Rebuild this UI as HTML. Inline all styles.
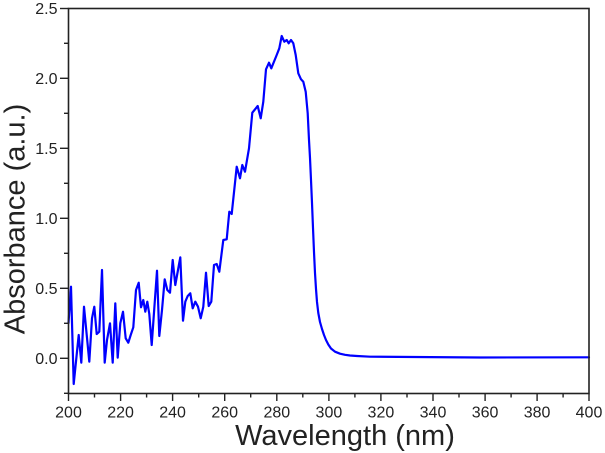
<!DOCTYPE html>
<html>
<head>
<meta charset="utf-8">
<style>
  html,body{margin:0;padding:0;background:#fff;}
  svg{display:block;}
  text{font-family:"Liberation Sans", Arial, sans-serif;fill:#222;}
</style>
</head>
<body>
<svg width="605" height="453" viewBox="0 0 605 453" xmlns="http://www.w3.org/2000/svg">
  <rect x="0" y="0" width="605" height="453" fill="#fff"/>
  <!-- curve -->
  <polyline fill="none" stroke="#0000ff" stroke-width="2.2" stroke-linejoin="round" stroke-linecap="round"
    points="68.5,323 71,286.7 73.7,384 78.7,335 81.3,362.7 84,306.7 89.3,361.7 92,318.3 94.3,306.7 96.7,334 99.3,331.7 102,270 104.7,362.7 107,340 110,323.3 112.7,362.7 115.3,303.3 117.7,357.7 120.3,323.3 123,311.7 125.7,338.3 128.3,342.7 130.7,335 133.3,327.3 136,290 138.7,282.7 141,307.3 143.3,300 145.3,311.7 147.3,301.7 149.3,314 151.7,345 154.3,308.3 157,270.7 159.3,336 162,310 164.7,279.3 167.3,290 170,292.7 172.7,260 175.3,285 178,270 180.3,257.3 183,320.7 185.3,301.7 187.7,296 190.3,293.3 192.7,308.3 195.3,301.7 198,306.7 200.7,318.3 203.3,306.7 206,272.7 208.7,306 211.3,301.7 214,265 216.7,264 219.3,271.7 223.3,240 226.7,239.3 229.3,211.7 231.7,214 236.7,166.7 240,178.3 242.3,165 245,171.7 249,148.3 252.3,112.7 257.7,106 260.7,118.3 263.3,101.7 266,69.3 269,62.7 271.3,68.3 276.7,55 279.3,48.3 281.7,36 284.3,41.7 286.7,40 288.7,43.3 291,40 293.3,43.3 295.7,55 298.3,73.3 301,79.3 303.3,81.7 305.7,91.7 307.7,113.3 309,140 310,158 311,180 312,203 313,228 314,252 315,273 316,289 317,302 318.3,313 320,322 322,329 324,335 326,340 328.3,344.5 331,348.5 335,351.7 340,353.7 345,354.8 350,355.5 357,356 370,356.7 480,357.5 589,357.3"/>
  <!-- frame -->
  <rect x="68.5" y="8.5" width="520.5" height="385" fill="none" stroke="#222" stroke-width="1.6"/>
  <!-- y ticks -->
  <g stroke="#222" stroke-width="1.4">
    <line x1="60" y1="358.3" x2="68.5" y2="358.3"/>
    <line x1="60" y1="288.3" x2="68.5" y2="288.3"/>
    <line x1="60" y1="218.3" x2="68.5" y2="218.3"/>
    <line x1="60" y1="148.3" x2="68.5" y2="148.3"/>
    <line x1="60" y1="78.3" x2="68.5" y2="78.3"/>
    <line x1="60" y1="8.5" x2="68.5" y2="8.5"/>
    <line x1="64" y1="323.3" x2="68.5" y2="323.3"/>
    <line x1="64" y1="253.3" x2="68.5" y2="253.3"/>
    <line x1="64" y1="183.3" x2="68.5" y2="183.3"/>
    <line x1="64" y1="113.3" x2="68.5" y2="113.3"/>
    <line x1="64" y1="43.3" x2="68.5" y2="43.3"/>
    <line x1="64" y1="393.3" x2="68.5" y2="393.3"/>
  </g>
  <!-- x ticks -->
  <g stroke="#222" stroke-width="1.4">
    <line x1="68.5" y1="393.5" x2="68.5" y2="401"/>
    <line x1="120.6" y1="393.5" x2="120.6" y2="401"/>
    <line x1="172.6" y1="393.5" x2="172.6" y2="401"/>
    <line x1="224.7" y1="393.5" x2="224.7" y2="401"/>
    <line x1="276.8" y1="393.5" x2="276.8" y2="401"/>
    <line x1="328.9" y1="393.5" x2="328.9" y2="401"/>
    <line x1="380.9" y1="393.5" x2="380.9" y2="401"/>
    <line x1="433" y1="393.5" x2="433" y2="401"/>
    <line x1="485.1" y1="393.5" x2="485.1" y2="401"/>
    <line x1="537.1" y1="393.5" x2="537.1" y2="401"/>
    <line x1="589" y1="393.5" x2="589" y2="401"/>
    <line x1="94.5" y1="393.5" x2="94.5" y2="397.5"/>
    <line x1="146.6" y1="393.5" x2="146.6" y2="397.5"/>
    <line x1="198.7" y1="393.5" x2="198.7" y2="397.5"/>
    <line x1="250.7" y1="393.5" x2="250.7" y2="397.5"/>
    <line x1="302.8" y1="393.5" x2="302.8" y2="397.5"/>
    <line x1="354.9" y1="393.5" x2="354.9" y2="397.5"/>
    <line x1="407" y1="393.5" x2="407" y2="397.5"/>
    <line x1="459" y1="393.5" x2="459" y2="397.5"/>
    <line x1="511.1" y1="393.5" x2="511.1" y2="397.5"/>
    <line x1="563.1" y1="393.5" x2="563.1" y2="397.5"/>
  </g>
  <!-- y tick labels -->
  <g font-size="16" text-anchor="end">
    <text x="57.5" y="364">0.0</text>
    <text x="57.5" y="294">0.5</text>
    <text x="57.5" y="224">1.0</text>
    <text x="57.5" y="154">1.5</text>
    <text x="57.5" y="84">2.0</text>
    <text x="57.5" y="14.2">2.5</text>
  </g>
  <!-- x tick labels -->
  <g font-size="16" text-anchor="middle">
    <text x="68.5" y="417.5">200</text>
    <text x="120.6" y="417.5">220</text>
    <text x="172.6" y="417.5">240</text>
    <text x="224.7" y="417.5">260</text>
    <text x="276.8" y="417.5">280</text>
    <text x="328.9" y="417.5">300</text>
    <text x="380.9" y="417.5">320</text>
    <text x="433" y="417.5">340</text>
    <text x="485.1" y="417.5">360</text>
    <text x="537.1" y="417.5">380</text>
    <text x="589" y="417.5">400</text>
  </g>
  <!-- axis titles -->
  <text x="345" y="445" font-size="29" text-anchor="middle">Wavelength (nm)</text>
  <text transform="translate(24.5,219) rotate(-90)" font-size="29" text-anchor="middle">Absorbance (a.u.)</text>
</svg>
</body>
</html>
